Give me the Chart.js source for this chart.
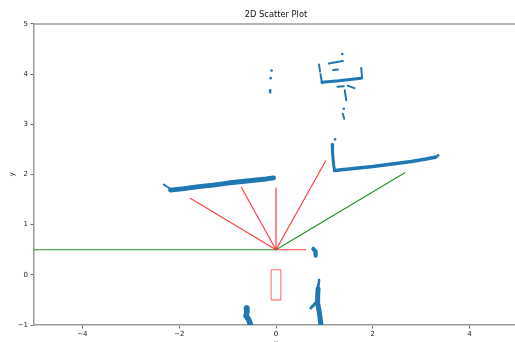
<!DOCTYPE html>
<html>
<head>
<meta charset="utf-8">
<script src="https://cdn.jsdelivr.net/npm/chart.js@4/dist/chart.umd.min.js"></script>
<style>
  html, body { margin: 0; padding: 0; overflow: hidden; background: #fff; width: 515px; height: 342px; }
  canvas { display: block; }
</style>
</head>
<body>
<canvas id="c" width="522" height="352" style="width:522px;height:352px"></canvas>
<script>
// Axis ticks
const xTicks = [-4, -2, 0, 2, 4];
const yTicks = [-1, 0, 1, 2, 3, 4, 5];

// Scan returns, grouped into polylines of [x, y] samples
const leftWallTip = [[-2.32, 1.80], [-2.24, 1.75], [-2.16, 1.70]];
const leftWall = [[-2.18, 1.69], [-1.9, 1.72], [-1.6, 1.76], [-1.3, 1.79], [-1.0, 1.83],
                  [-0.7, 1.86], [-0.4, 1.89], [-0.2, 1.91], [-0.05, 1.93]];
const rightWallPost = [[1.16, 2.60], [1.17, 2.40], [1.19, 2.20], [1.21, 2.08]];
const rightWall = [[1.21, 2.08], [1.6, 2.12], [2.0, 2.16], [2.4, 2.21], [2.8, 2.26],
                   [3.1, 2.31], [3.31, 2.35]];
const upperBlock = [
  [[1.09, 4.21], [1.38, 4.26]],
  [[1.18, 4.08], [1.28, 4.09]],
  [[0.89, 4.19], [0.91, 4.05]],
  [[0.92, 4.00], [0.95, 3.82]],
  [[1.76, 4.12], [1.78, 3.92]],
  [[1.27, 3.75], [1.40, 3.76]],
  [[1.48, 3.77], [1.62, 3.72]],
  [[1.42, 3.68], [1.45, 3.48]],
  [[1.38, 3.21], [1.41, 3.11]]
];
const upperShelf = [[0.95, 3.84], [1.3, 3.87], [1.76, 3.92]];
const nearPost = [[0.77, 0.52], [0.81, 0.47], [0.82, 0.38]];
const lowerLeft = [[-0.61, -0.66], [-0.60, -0.74], [-0.62, -0.82], [-0.57, -0.88],
                   [-0.54, -0.96], [-0.53, -1.0]];
const lowerRightTop = [[0.89, -0.10], [0.88, -0.20], [0.87, -0.30]];
const lowerRight = [[0.87, -0.28], [0.86, -0.42], [0.86, -0.56],
                    [0.89, -0.72], [0.91, -0.86], [0.93, -1.0]];
const lowerBranch = [[0.72, -0.66], [0.78, -0.60], [0.85, -0.52]];
const looseDots = [[1.22, 2.70], [3.35, 2.38], [1.37, 4.40], [1.40, 3.31],
                   [-0.09, 4.07], [-0.11, 3.92], [-0.12, 3.68], [-0.12, 3.64]];

// Robot pose and rays
const origin = [0, 0.5];
const redRayEnds = [[-1.78, 1.53], [-0.72, 1.75], [0, 1.74], [1.03, 2.28], [0.63, 0.5]];
const greenRayEnds = [[-5, 0.5], [2.67, 2.04]];
const footprint = [[-0.1, -0.5], [0.1, 0.1]];

const BLUE = '#1f77b4';
const pts = arr => arr.map(p => ({ x: p[0], y: p[1] }));
const GAP = { x: null, y: null };

function band(arr, width) {
  return { data: pts(arr), showLine: true, borderColor: BLUE, backgroundColor: BLUE,
           borderWidth: width, pointRadius: 0, borderCapStyle: 'round', borderJoinStyle: 'round' };
}
function multiBand(list, width) {
  const data = [];
  list.forEach((seg, i) => { if (i) data.push(GAP); data.push(...pts(seg)); });
  const d = band([], width);
  d.data = data;
  d.spanGaps = false;
  return d;
}
function rays(ends, color) {
  const data = [];
  ends.forEach((e, i) => { if (i) data.push(GAP); data.push(pts([origin])[0], pts([e])[0]); });
  return { data, showLine: true, spanGaps: false, borderColor: color, borderWidth: 1.2, pointRadius: 0 };
}
const [r0, r1] = footprint;
const rectData = pts([[r0[0], r0[1]], [r1[0], r0[1]], [r1[0], r1[1]], [r0[0], r1[1]], [r0[0], r0[1]]]);

const frame = {
  id: 'frame',
  afterDraw(chart) {
    const { ctx, chartArea: a } = chart;
    ctx.save();
    ctx.strokeStyle = '#9a9a9a';
    ctx.lineWidth = 1.5;
    ctx.beginPath();
    ctx.moveTo(a.left, a.top);
    ctx.lineTo(a.right, a.top);
    ctx.lineTo(a.right, a.bottom);
    ctx.stroke();
    ctx.restore();
  }
};

const tickFont = { family: 'DejaVu Sans', size: 7 };
const minusLabel = v => (v < 0 ? '\u2212' + Math.abs(v) : String(v));

new Chart(document.getElementById('c'), {
  type: 'scatter',
  data: {
    datasets: [
      band(leftWallTip, 2),
      band(leftWall, 4.8),
      band(rightWallPost, 3),
      band(rightWall, 3.5),
      multiBand(upperBlock, 2),
      band(upperShelf, 3),
      band(nearPost, 4),
      band(lowerLeft, 5.5),
      band(lowerRightTop, 2.5),
      band(lowerRight, 5),
      band(lowerBranch, 3),
      { data: pts(looseDots), pointRadius: 1.3, pointBackgroundColor: BLUE, pointBorderWidth: 0 },
      rays(redRayEnds, 'rgba(255,0,0,0.75)'),
      rays(greenRayEnds, 'rgba(0,128,0,0.85)'),
      { data: rectData, showLine: true, borderColor: 'rgba(255,0,0,0.55)', borderWidth: 1.1, pointRadius: 0 }
    ]
  },
  options: {
    responsive: false,
    animation: false,
    layout: { padding: 0 },
    plugins: {
      legend: { display: false },
      tooltip: { enabled: false },
      title: {
        display: true, text: '2D Scatter Plot', fullSize: false, color: '#111',
        font: { family: 'DejaVu Sans', size: 8.3, weight: 'normal' },
        padding: { top: 10, bottom: 4 }
      }
    },
    scales: {
      x: {
        type: 'linear', min: -5, max: 5,
        afterBuildTicks: s => { s.ticks = xTicks.map(v => ({ value: v })); },
        afterFit: s => { s.height = 27; },
        grid: { drawOnChartArea: false, drawTicks: true, tickLength: 3.5, color: '#444', lineWidth: 0.8 },
        border: { color: '#9a9a9a', width: 1.5 },
        ticks: { font: tickFont, color: '#222', padding: 1, maxRotation: 0, callback: minusLabel },
        title: { display: true, text: 'x', font: tickFont, color: '#222', padding: { top: 0, bottom: 4.3 } }
      },
      y: {
        type: 'linear', min: -1, max: 5,
        afterBuildTicks: s => { s.ticks = yTicks.map(v => ({ value: v })); },
        afterFit: s => { s.width = 34; },
        grid: { drawOnChartArea: false, drawTicks: true, tickLength: 3.5, color: '#444', lineWidth: 0.8 },
        border: { color: '#9a9a9a', width: 1.5 },
        ticks: { font: tickFont, color: '#222', padding: 2.5, callback: minusLabel },
        title: { display: true, text: 'y', font: tickFont, color: '#222', padding: { top: 8, bottom: 0 } }
      }
    }
  },
  plugins: [frame]
});
</script>
</body>
</html>
